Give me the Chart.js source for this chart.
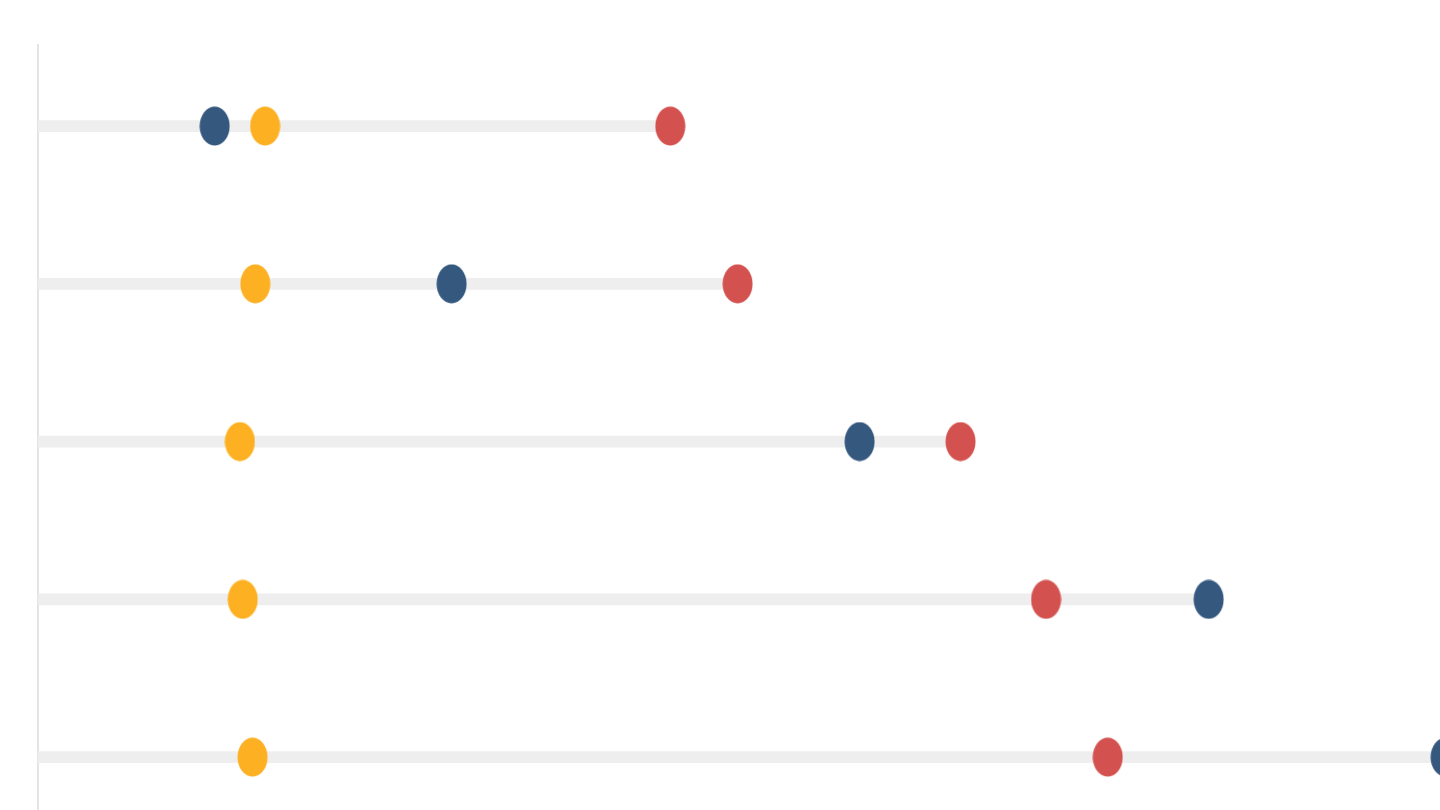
<!DOCTYPE html>
<html>
<head>
<meta charset="utf-8">
<script src="https://cdn.jsdelivr.net/npm/chart.js@4.4.1/dist/chart.umd.min.js"></script>
<style>
html,body{margin:0;padding:0;background:#ffffff;overflow:hidden;}
#wrap{width:1440px;height:810px;position:relative;}
</style>
</head>
<body>
<div id="wrap"><canvas id="c" width="1440" height="810"></canvas></div>
<script>
// Row positions (1 = top row)
const rows = [1, 2, 3, 4, 5];
// Series values
const blueValues   = [12.6, 29.5, 58.6, 83.5, 100.4];
const yellowValues = [16.2, 15.5, 14.4, 14.6, 15.3];
const redValues    = [45.1, 49.9, 65.8, 71.9, 76.3];

const BLUE = '#35587f', YELLOW = '#fdb022', RED = '#d3524f', TRACK = '#eeeeee';

function ellipse(color){
  const cv = document.createElement('canvas');
  cv.width = 31; cv.height = 40;
  const g = cv.getContext('2d');
  g.fillStyle = color;
  g.beginPath();
  g.ellipse(15.5, 20, 15, 19.5, 0, 0, Math.PI*2);
  g.fill();
  return cv;
}

const trackEnds = rows.map((r,i)=>Math.max(blueValues[i], yellowValues[i], redValues[i]));
const pts = vals => rows.map((r,i)=>({x: vals[i], y: r}));
const dot = (vals, color) => ({type:'scatter', data: pts(vals), pointStyle: ellipse(color),
  pointRadius: 20, pointBorderWidth: 0, clip:false, order:1});

new Chart(document.getElementById('c'), {
  data: {
    datasets: [
      {type:'bar', indexAxis:'y', data: rows.map((r,i)=>({x:[0, trackEnds[i]], y:r})),
       backgroundColor: TRACK, borderWidth:0, barThickness:11, order: 5},
      dot(blueValues, BLUE),
      dot(yellowValues, YELLOW),
      dot(redValues, RED)
    ]
  },
  options: {
    responsive:false, animation:false, events:[],
    layout:{autoPadding:false, padding:{top:45,left:38,right:0,bottom:0}},
    plugins:{legend:{display:false}, tooltip:{enabled:false}},
    scales:{
      x:{type:'linear', min:0, max:100, display:false, offset:false},
      y:{type:'linear', min:0.486, max:5.335, reverse:true, display:true, offset:false,
         ticks:{display:false}, grid:{display:false, drawTicks:false},
         border:{display:true, color:'#e4e4e4', width:2}}
    }
  }
});
</script>
</body>
</html>
